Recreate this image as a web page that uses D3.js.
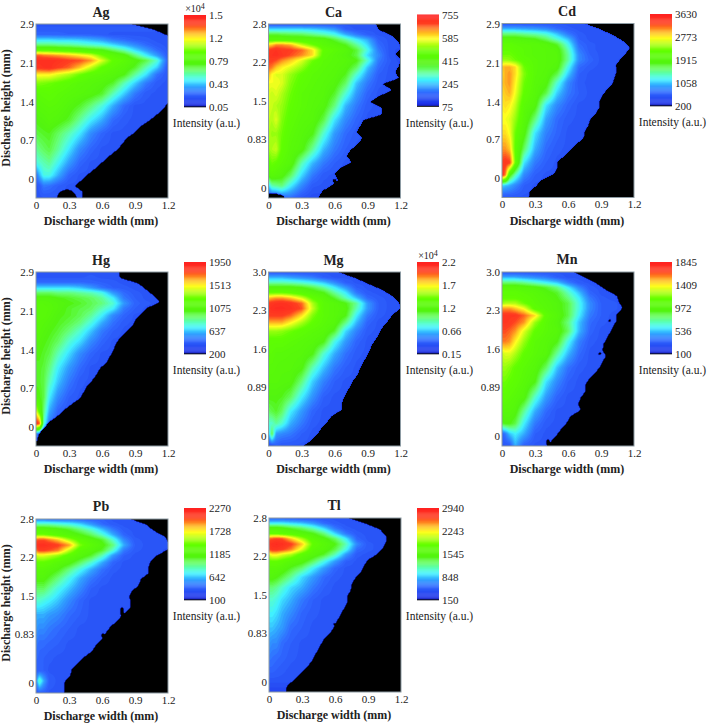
<!DOCTYPE html>
<html><head><meta charset="utf-8">
<style>html,body{margin:0;padding:0;background:#fff}svg{display:block}text{font-family:"Liberation Serif",serif;fill:#222}</style>
<script src="https://cdn.jsdelivr.net/npm/d3@7"></script></head><body>
<svg id="c" width="709" height="725"></svg>
<script>
// Grid coordinates: column widths in mm, rows as a fraction of plot height from the top.
const colsMm=[0,.03,.07,.12,.2,.3,.4,.5,.6,.7,.8,.9,1,1.1,1.2];
const rowsFrac=[0,.03,.06,.09,.12,.15,.18,.21,.25,.29,.34,.4,.47,.55,.63,.72,.8,.87,.93,1];
const xTickValues=[0,.3,.6,.9,1.2];
const gridAg=[[12],[13],[15,15,15,15,15,14,14,14,13,12],
[28,28,28,28,27,27,26,24,22,18,16,14,13,12],[40,40,40,40,39,38,36,34,32,28,24,20,16,13,12],
[58,58,58,58,56,55,53,50,48,42,36,28,22,16,12],[88,88,86,85,83,80,76,72,62,55,50,40,30,22,13],
[96,96,96,96,95,92,90,84,72,60,56,50,44,34,14],[94,94,95,96,92,88,80,70,60,56,52,46,36,27,12],
[76,76,76,76,72,68,62,57,55,52,48,38,29,17,12],[64,64,63,62,60,57,54,52,50,46,36,27,18,13,12],
[56,56,57,58,56,54,52,50,46,36,27,18,13,12],[53,53,54,55,54,50,46,40,33,24,16,12],
[48,49,50,52,50,46,38,30,24,16,13,12],[44,45,46,47,42,36,29,20,15,12],
[38,40,42,44,38,29,20,15,12],[32,34,36,38,31,22,15,12],[16,24,32,32,24,15,12],[12,13,18,17,14,12],[12]];
const edgeAg=[.855,1.07,1.2,1.2,1.2,1.2,1.2,1.2,1.2,1.2,1.2,1.2,1.2,1.2,1.16,1.1,1.03,.95,.9,.82,.78,.73,.66,.6,.54,.47,.41,.35,.42,.42];
const holesAg=[[.28,1,.09,.05]];

const gridCa=[[12],[28,28,28,28,28,28,27,25,22,14,12],[45,45,45,44,43,42,39,36,32,24,18,14,12],
[55,55,55,55,54,54,53,52,45,38,30,24,14,12],[78,80,85,85,82,70,62,55,52,47,38,28,16,12],
[92,94,95,93,92,88,78,60,56,52,45,32,18,12,10],[94,95,96,94,90,85,78,58,54,50,44,28,20,12,10],
[92,92,90,85,80,72,62,56,54,52,48,34,18,13,10],[88,86,80,76,72,66,58,55,53,50,42,26,16,12],
[82,75,72,72,66,60,56,54,52,47,34,22,14,12],[74,74,74,72,64,58,55,53,50,42,26,18,13,12],
[72,70,72,68,62,56,54,52,46,34,22,15,12],[72,70,68,66,60,56,53,50,40,25,18,13,12],
[70,68,72,64,58,54,52,44,29,20,15,12],[68,66,66,62,56,52,48,34,22,16,13,12],
[66,68,70,60,54,50,38,25,18,14,12],[58,62,60,56,52,36,25,18,14,12],[50,54,52,50,42,28,18,13,12],
[26,36,38,40,30,20,13,12],[10,10,10,14,16,12,10]];
const edgeCa=[.97,1,1.12,1.18,1.2,1.15,1.2,1.18,1.15,1.18,1.03,1.12,1,.92,1.03,1.03,.86,.83,.8,.85,.81,.74,.71,.75,.65,.6,.63,.56,.48,.45];
const holesCa=[[.78,.74,.03,.015],[.6,.9,.02,.012],[.51,.97,.03,.02],[.02,1,.13,.03]];

const gridCd=[[12],[24,24,24,24,23,22,20,16,13,12],[40,40,40,40,38,36,33,26,18,13,12],
[52,52,52,52,50,48,42,34,26,14,12],[58,58,58,56,55,54,52,46,32,16,13,12],[60,60,60,58,56,54,53,51,36,18,13,12],
[62,62,62,60,56,54,53,52,38,20,14,12],[66,66,65,62,58,55,53,52,38,20,15,12],[80,82,82,78,62,55,53,50,32,16,13,12],
[78,82,84,78,64,55,52,44,27,14,12],[80,82,84,76,62,54,50,34,20,13,12],[78,80,82,74,60,53,44,27,18,14,12],
[76,78,76,70,56,50,29,20,15,12],[74,74,72,66,54,40,23,16,13,12],[78,78,74,62,50,29,19,15,12],
[84,84,80,60,42,24,16,13,12],[92,94,92,62,29,18,14,12],[96,86,50,36,20,14,12],[28,26,24,20,14,12],[12]];
const edgeCd=[.74,.89,1.01,1.1,1.16,1.12,1.07,1.03,1.04,1.02,1,.95,.91,.88,.88,.85,.8,.78,.75,.74,.68,.62,.57,.5,.5,.47,.36,.31,.25,.24];
const holesCd=[[.97,.4,.02,.015]];

const gridHg=[[12],[12,12,12,12,12,12,12,13,12],[16,16,16,16,16,16,16,15,14,13,12],
[28,28,28,28,28,28,26,22,17,14,13,12],[42,42,42,42,40,40,38,36,32,22,16,13,12],
[50,50,50,50,48,46,44,42,38,30,18,14,12],[53,53,53,52,50,48,46,43,40,34,22,15,13,12],
[54,54,54,53,50,46,44,42,36,30,18,14,12],[54,54,54,52,48,46,43,38,30,20,15,12],
[53,53,52,50,47,44,40,33,24,17,13,12],[52,52,50,48,45,40,34,26,18,14,12],[50,50,48,46,42,34,28,20,15,12],
[48,48,46,44,36,28,20,15,12],[46,46,45,40,30,22,16,12],[46,46,44,36,26,18,13,12],[50,48,44,30,20,14,12],
[74,58,40,24,15,12],[97,90,34,18,12],[20,16,12],[12]];
const edgeHg=[.75,.76,.93,1,1.07,1.12,1,.95,.9,.87,.81,.76,.72,.7,.67,.64,.58,.55,.51,.46,.43,.4,.32,.25,.19,.11,.07,.02,.005,0];
const holesHg=[];

const gridMg=[[12],[24,24,24,24,22,20,18,14,12],[36,36,36,36,35,33,30,26,20,14,12],
[50,50,50,50,50,48,44,38,30,22,14,12],[62,62,62,62,60,56,52,48,38,30,18,13,12],
[80,82,84,84,80,72,60,54,46,36,26,16,13,12],[92,94,95,96,94,88,68,56,53,48,38,22,14,12],
[94,96,97,97,96,90,70,56,53,50,36,22,14,12],[92,92,92,92,88,78,64,56,53,48,30,18,13,12,11],
[82,82,82,82,76,68,60,55,52,40,25,15,12],[66,66,66,65,62,58,55,53,46,28,19,13,12],
[58,58,58,58,56,54,52,48,32,22,15,12],[56,56,54,54,53,52,48,34,24,17,13,12],
[54,54,53,52,52,49,36,26,18,14,12],[52,52,52,51,50,40,27,19,14,12],[48,48,48,47,42,30,21,14,12],
[42,44,46,42,30,22,15,12],[34,34,38,34,24,18,13,12],[22,44,22,20,18,14,12],[10,10,14,12]];
const edgeMg=[.62,.78,.9,1.03,1.12,1.18,1.2,1.13,1.09,1.04,1.01,.98,.94,.92,.89,.86,.83,.81,.77,.74,.71,.68,.66,.66,.57,.53,.48,.44,.39,.31];
const holesMg=[];

const gridMn=[[12],[24,24,24,24,22,20,18,14,12],[40,40,40,40,38,34,30,26,18,13,12],
[54,54,54,54,52,50,46,40,30,20,13,12],[58,58,58,58,56,54,50,46,36,26,15,12],
[60,60,60,60,58,55,52,48,40,30,18,13,12],[66,68,68,68,62,56,53,50,44,32,20,14,13,12],
[84,84,84,80,74,58,54,50,44,32,20,14,13,12],[94,94,94,94,88,78,58,52,44,30,18,14,12],
[94,94,93,90,84,66,56,50,40,26,16,13,12],[90,90,88,84,72,60,55,52,42,25,15,12],
[86,86,84,76,66,56,53,48,32,19,13,12],[70,72,72,68,60,55,52,38,25,16,12],[66,66,64,60,56,52,42,26,17,13,12],
[62,62,60,58,54,48,29,20,14,12],[58,58,56,54,50,34,22,15,12],[52,52,52,50,38,24,16,12],
[46,48,48,44,30,18,13,12],[14,18,26,30,24,14,12],[12,12,12,24,14,12]];
const edgeMn=[.65,.75,.86,.94,1.04,1.06,1.09,1.04,1.04,1.01,.98,.95,.92,.91,.94,.91,.88,.83,.78,.75,.75,.71,.69,.71,.62,.59,.54,.5,.45,.42];
const holesMn=[[.89,.47,.015,.01],[.98,.28,.015,.008],[.77,.69,.02,.012],[.42,.98,.02,.02]];

const gridPb=[[18,18,18,16,16,16,15,14,14,12],[36,36,36,36,34,32,28,22,16,13,12],
[54,54,54,52,50,46,40,34,26,18,13,12],[62,62,62,60,56,52,48,42,34,24,15,12],
[88,90,90,86,80,68,58,52,46,34,20,13,12],[94,96,96,95,92,84,64,56,50,40,24,14,12],
[86,92,92,90,86,70,56,52,46,34,18,13,12,12,10],[70,72,72,70,66,58,52,46,36,22,14,12],
[60,60,60,58,54,50,42,34,24,15,12],[54,54,54,52,48,40,32,24,17,13,12],[50,50,50,46,40,32,24,18,14,12],
[42,42,42,38,32,26,20,14,12],[34,34,32,30,26,20,15,12],[24,24,24,22,20,16,14,12],[22,20,20,18,16,14,12],
[18,16,16,15,14,12],[16,15,14,13,12],[14,14,14,12],[18,36,24,14,12],[12,14,14,12]];
const edgePb=[.85,1,1.07,1.17,1.2,1.2,1.1,1.04,1.02,1.02,.95,.93,.87,.84,.88,.84,.78,.73,.67,.63,.6,.54,.51,.43,.38,.32,.31,.26,.25,.25];
const holesPb=[[.78,.53,.02,.025],[.87,.48,.015,.04],[.61,.67,.02,.015]];

const gridTl=[[14,14,14,14,13,12],[30,30,30,30,28,26,22,16,13,12],[52,52,52,50,46,42,36,28,18,13,12],
[60,60,60,58,56,52,48,40,28,18,13,12],[88,90,92,90,80,68,56,50,42,30,15,12],[94,96,97,96,92,80,60,54,48,36,20,13,12],
[90,94,94,92,86,72,56,52,44,32,16,13,12],[72,76,76,72,68,58,52,46,36,22,13,12],[60,60,60,58,54,50,42,32,22,14,12],
[54,54,54,52,46,40,30,22,15,12],[50,50,48,44,38,28,22,16,13,12],[40,40,38,34,28,24,18,14,12],
[34,34,32,28,24,18,14,12],[30,30,28,24,20,15,13,12],[26,26,24,22,16,14,12],[22,20,20,16,14,12],
[18,17,16,15,13,12],[15,15,14,13,12],[12],[8]];
const edgeTl=[.71,.88,1.01,1.06,1.06,1.03,.98,.89,.86,.83,.78,.75,.74,.71,.71,.68,.65,.62,.59,.56,.5,.47,.44,.41,.38,.33,.28,.22,.16,.15];
const holesTl=[[.59,.61,.01,.008]];

const yFracA=[0,.225,.45,.665,.889], yFracB=[0,.22,.445,.662,.94];
const colorStops=[[0,"#000000"],[1.5,"#0a14b8"],[3,"#1c30e8"],[15,"#3068ff"],[22,"#30a0ff"],[29,"#40f0ff"],[34,"#58ffc8"],[40,"#66ff70"],[47,"#52f410"],[60,"#60ff00"],[66,"#a0ff10"],[74,"#ffff20"],[80,"#ffc020"],[85,"#ff8020"],[90,"#ff4020"],[100,"#ff2020"]];
const panels=[
{name:"Ag",g:gridAg,e:edgeAg,h:holesAg,yl:["2.9","2.1","1.4","0.7","0"],yf:yFracA,cl:["0.05","0.43","0.79","1.2","1.5"],x:36,y:24,cb:184,cy:15,exp:1,yt:1,ty:12},
{name:"Ca",g:gridCa,e:edgeCa,h:holesCa,yl:["2.8","2.2","1.5","0.83","0"],yf:yFracB,cl:["75","245","415","585","755"],x:268.5,y:24,cb:417,cy:14.5,ty:12},
{name:"Cd",g:gridCd,e:edgeCd,h:holesCd,yl:["2.9","2.1","1.4","0.7","0"],yf:yFracA,cl:["200","1058","1915","2773","3630"],x:502,y:23.5,cb:650,cy:14,ty:11},
{name:"Hg",g:gridHg,e:edgeHg,h:holesHg,yl:["2.9","2.1","1.4","0.7","0"],yf:yFracA,cl:["200","637","1075","1513","1950"],x:36,y:272,cb:184,cy:262,yt:1,ty:260},
{name:"Mg",g:gridMg,e:edgeMg,h:holesMg,yl:["3.0","2.3","1.6","0.89","0"],yf:yFracB,cl:["0.15","0.66","1.2","1.7","2.2"],x:268.5,y:272,cb:417,cy:262,exp:1,ty:260},
{name:"Mn",g:gridMn,e:edgeMn,h:holesMn,yl:["3.0","2.3","1.6","0.89","0"],yf:yFracB,cl:["100","536","972","1409","1845"],x:502,y:272,cb:650,cy:262,ty:259},
{name:"Pb",g:gridPb,e:edgePb,h:holesPb,yl:["2.8","2.2","1.5","0.83","0"],yf:yFracB,cl:["100","642","1185","1728","2270"],x:36,y:519,cb:184,cy:508,yt:1,ty:506},
{name:"Tl",g:gridTl,e:edgeTl,h:holesTl,yl:["2.8","2.2","1.5","0.83","0"],yf:yFracB,cl:["150","848","1545","2243","2940"],x:269,y:518,cb:417,cy:508,ty:505}
];
const W=132,H=174,BW=22,BH=92;
const color=d3.scaleLinear().domain(colorStops.map(d=>d[0])).range(colorStops.map(d=>d[1])).clamp(true);
const thresholds=d3.range(2,100,1.5);
const svg=d3.select("#c");
const colIdx=d3.scaleLinear().domain(colsMm).range(colsMm.map((d,i)=>i)).clamp(true);
const rowIdx=d3.scaleLinear().domain(rowsFrac).range(rowsFrac.map((d,i)=>i)).clamp(true);
const xScale=d3.scaleLinear().domain([0,1.2]).range([0,W]);
const yScale=d3.scaleLinear().domain([0,1]).range([0,H]);
const path=d3.geoPath();
panels.forEach(p=>{
  const G=svg.append("g").attr("transform",`translate(${p.x},${p.y})`);
  const cell=(r,c)=>{const a=p.g[r];return a[Math.min(c,a.length-1)];};
  const edge=d3.scaleLinear().domain(p.e.map((d,i)=>i/(p.e.length-1))).range(p.e);
  const field=new Float64Array(W*H);
  for(let j=0;j<H;j++){
    const t=yScale.invert(j+.5),rf=rowIdx(t),r0=Math.min(Math.floor(rf),rowsFrac.length-2),fr=rf-r0;
    const ex=edge(t);
    for(let i=0;i<W;i++){
      const xm=xScale.invert(i+.5);
      let v=0;
      if(xm<=ex && !p.h.some(h=>((xm-h[0])/h[2])**2+((t-h[1])/h[3])**2<1)){
        const cf=colIdx(xm),c0=Math.min(Math.floor(cf),colsMm.length-2),fc=cf-c0;
        v=(cell(r0,c0)*(1-fc)+cell(r0,c0+1)*fc)*(1-fr)+(cell(r0+1,c0)*(1-fc)+cell(r0+1,c0+1)*fc)*fr;
      }
      field[j*W+i]=v;
    }
  }
  G.append("rect").attr("width",W).attr("height",H).attr("fill","#000");
  G.append("g").selectAll("path").data(d3.contours().size([W,H]).thresholds(thresholds)(field)).join("path")
    .attr("d",path).attr("fill",d=>color(d.value));
  G.append("rect").attr("width",W).attr("height",H).attr("fill","none").attr("stroke","#8d9ba3").attr("stroke-width",1);
  const ax=G.append("g").attr("transform",`translate(0,${H})`)
    .call(d3.axisBottom(xScale).tickValues(xTickValues).tickSize(0).tickPadding(3).tickFormat(d=>d===0?"0":d3.format(".1f")(d)));
  const ay=G.append("g").call(d3.axisLeft(yScale).tickValues(p.yf).tickSize(0).tickPadding(2).tickFormat((d,i)=>p.yl[i]));
  [ax,ay].forEach(a=>{a.select(".domain").remove();a.selectAll("text").attr("font-size",11).attr("font-family","Liberation Serif").attr("fill","#222");});
  G.append("text").attr("x",W/2-1).attr("y",H+27).attr("text-anchor","middle").attr("font-size",12).attr("font-weight","bold").text("Discharge width (mm)");
  svg.append("text").attr("x",p.x+W/2-1).attr("y",p.ty+5).attr("text-anchor","middle").attr("font-size",14).attr("font-weight","bold").text(p.name);
  if(p.yt) svg.append("text").attr("transform",`translate(${p.x-26},${p.y+H/2-3}) rotate(-90)`).attr("text-anchor","middle").attr("font-size",12).attr("font-weight","bold").text("Discharge height (mm)");
  // colour bar
  const bar=svg.append("g").attr("transform",`translate(${p.cb},${p.cy})`);
  const bs=d3.scaleLinear().domain([0,100]).range([BH,0]);
  bar.selectAll("rect").data(d3.range(0,100,1)).join("rect")
    .attr("x",0).attr("width",BW).attr("y",d=>bs(d+1)).attr("height",BH/100+.3).attr("fill",d=>color(d===0?0:d+.5));
  const ac=bar.append("g").attr("transform",`translate(${BW},0)`)
    .call(d3.axisRight(bs).tickValues([0,25,50,75,100]).tickSize(0).tickPadding(3).tickFormat((d,i)=>p.cl[i]));
  ac.select(".domain").remove();
  ac.selectAll("text").attr("font-size",11).attr("font-family","Liberation Serif").attr("fill","#222");
  bar.append("text").attr("x",BW+.5).attr("y",BH+20).attr("text-anchor","middle").attr("font-size",11.5).text("Intensity (a.u.)");
  if(p.exp){
    const t=bar.append("text").attr("x",BW/2).attr("y",-3.5).attr("text-anchor","middle").attr("font-size",10);
    t.append("tspan").text("×10");
    t.append("tspan").attr("dy",-3).attr("font-size",8).text("4");
  }
});
</script></body></html>
